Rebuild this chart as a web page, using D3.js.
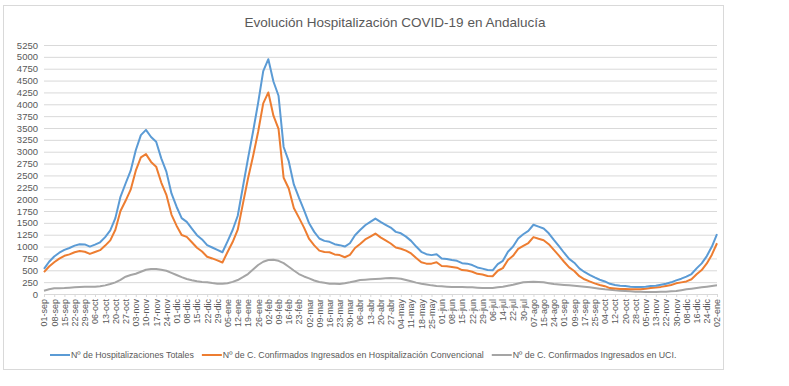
<!DOCTYPE html>
<html>
<head>
<meta charset="utf-8">
<script src="https://cdn.jsdelivr.net/npm/d3@7"></script>
<style>
  body { margin: 0; background: #fff; }
  svg text { font-family: "Liberation Sans", "DejaVu Sans", sans-serif; fill: #595959; }
</style>
</head>
<body>
<svg class="chart" width="789" height="386"></svg>
<script>
// ---- Data (one value every half label step) ----
const labels = ["01-sep","08-sep","15-sep","22-sep","29-sep","06-oct","13-oct","20-oct","27-oct",
  "03-nov","10-nov","17-nov","24-nov","01-dic","08-dic","15-dic","22-dic","29-dic","05-ene","12-ene",
  "19-ene","26-ene","02-feb","09-feb","16-feb","23-feb","02-mar","09-mar","16-mar","23-mar","30-mar",
  "06-abr","13-abr","20-abr","27-abr","04-may","11-may","18-may","25-may","01-jun","08-jun","15-jun",
  "22-jun","29-jun","06-jul","14-jul","22-jul","30-jul","07-ago","15-ago","24-ago","01-sep","09-sep",
  "17-sep","25-sep","04-oct","12-oct","20-oct","28-oct","05-nov","13-nov","22-nov","30-nov","08-dic",
  "16-dic","24-dic","02-ene"];

const totales = [530,680,790,870,930,970,1020,1050,1045,1000,1040,1090,1200,1340,1600,2050,2330,2600,
  3030,3350,3460,3310,3210,2860,2580,2120,1840,1600,1520,1380,1240,1150,1030,980,930,880,1110,1350,
  1650,2250,2850,3420,4030,4700,4950,4480,4180,3100,2800,2310,2030,1770,1490,1310,1170,1120,1100,1050,
  1030,1000,1070,1240,1350,1450,1520,1590,1520,1460,1400,1310,1280,1210,1120,1000,890,840,820,840,750,
  740,715,700,650,640,610,560,535,505,500,630,700,890,1000,1170,1260,1330,1460,1420,1380,1280,1140,
  1010,870,740,660,540,465,405,350,300,265,215,190,175,168,155,147,147,154,168,175,197,218,246,288,
  323,365,421,540,646,800,1000,1260];

const convencional = [460,580,670,745,805,835,880,905,890,845,885,925,1020,1130,1355,1750,1965,2200,
  2600,2880,2950,2785,2685,2350,2090,1675,1440,1245,1205,1090,975,895,785,750,710,665,885,1095,1355,
  1895,2430,2905,3420,4020,4250,3760,3480,2450,2225,1815,1610,1400,1160,1025,915,885,880,835,820,775,
  825,970,1055,1150,1210,1275,1195,1130,1065,980,955,915,855,760,670,640,640,670,590,585,570,555,505,
  495,470,425,410,380,375,490,545,715,805,950,1015,1075,1200,1165,1135,1050,930,810,680,560,485,375,
  310,265,225,190,165,125,115,105,105,100,100,100,110,125,135,150,170,190,225,245,265,310,415,505,645,
  830,1070];

const uci = [70,100,119,123,126,133,140,147,154,154,154,165,182,210,246,300,365,400,428,470,512,525,527,
  510,491,445,400,355,316,290,267,255,246,230,218,215,225,255,295,355,421,515,611,680,716,720,700,650,
  575,495,421,370,330,285,253,235,218,214,211,225,246,270,295,302,309,316,323,330,337,330,323,295,267,
  240,218,200,182,170,161,154,147,147,147,143,140,133,126,126,126,140,154,175,197,222,246,253,260,253,
  246,228,211,200,190,182,175,165,154,140,126,112,98,88,77,70,63,56,49,45,42,42,42,45,49,56,63,80,98,
  112,126,140,154,168,183];

const yTicks = d3.range(0, 5251, 250);

const series = [
  {name: "Nº de Hospitalizaciones Totales", values: totales, color: "#5b9bd5"},
  {name: "Nº de C. Confirmados Ingresados en Hospitalización Convencional", values: convencional, color: "#ed7d31"},
  {name: "Nº de C. Confirmados Ingresados en UCI.", values: uci, color: "#a5a5a5"}
];

// ---- Layout ----
const svg = d3.select("svg.chart");
const plot = {left: 44, right: 717, top: 45, bottom: 294};

// chart frame
svg.append("rect")
  .attr("x", 3.5).attr("y", 5.5)
  .attr("width", 720).attr("height", 364)
  .attr("fill", "#fff")
  .attr("stroke", "#d9d9d9");

svg.append("text")
  .attr("x", 395).attr("y", 27)
  .attr("text-anchor", "middle")
  .style("font-size", "13.5px")
  .text("Evolución Hospitalización COVID-19 en Andalucía");

const x = d3.scaleLinear().domain([0, labels.length - 1]).range([plot.left, plot.right]);
const y = d3.scaleLinear().domain([0, 5250]).range([plot.bottom, plot.top]);

// gridlines + y labels
const yAxis = d3.axisLeft(y)
  .tickValues(yTicks)
  .tickFormat(d3.format("d"))
  .tickSize(-(plot.right - plot.left))
  .tickPadding(6);
svg.append("g")
  .attr("transform", `translate(${plot.left},0)`)
  .call(yAxis)
  .call(g => g.select(".domain").remove())
  .call(g => g.selectAll("line").attr("stroke", "#d9d9d9"))
  .call(g => g.selectAll("text").style("font-size", "9.5px").attr("fill", "#595959"));

// x axis: category labels
const xAxis = d3.axisBottom(x)
  .tickValues(d3.range(labels.length))
  .tickFormat(i => labels[i])
  .tickSize(3);
svg.append("g")
  .attr("transform", `translate(0,${plot.bottom})`)
  .call(xAxis)
  .call(g => g.select(".domain").attr("stroke", "#d9d9d9"))
  .call(g => g.selectAll("line").attr("stroke", "#d9d9d9"))
  .call(g => g.selectAll("text")
    .style("font-size", "9px")
    .attr("fill", "#595959")
    .attr("text-anchor", "end")
    .attr("transform", "rotate(-90)")
    .attr("x", -5).attr("y", 0).attr("dy", "0.32em"));

// lines
const line = d3.line()
  .x((d, i) => x(i / 2))
  .y(d => y(d));

svg.append("g").selectAll("path")
  .data(series.slice().reverse())
  .join("path")
  .attr("d", d => line(d.values))
  .attr("fill", "none")
  .attr("stroke", d => d.color)
  .attr("stroke-width", 2)
  .attr("stroke-linejoin", "round");

// legend, centred under the plot
const legend = svg.append("g");
let lx = 0;
series.forEach(s => {
  const g = legend.append("g").attr("transform", `translate(${lx},0)`);
  g.append("line").attr("x1", 0).attr("x2", 20).attr("y1", 0).attr("y2", 0)
    .attr("stroke", s.color).attr("stroke-width", 2);
  const t = g.append("text").attr("x", 21).attr("y", 0).attr("dy", "0.35em")
    .style("font-size", "8.8px").text(s.name);
  lx += 21 + t.node().getComputedTextLength() + 8;
});
const lw = lx - 8;
legend.attr("transform", `translate(${Math.round(363 - lw / 2)},355)`);
</script>
</body>
</html>
